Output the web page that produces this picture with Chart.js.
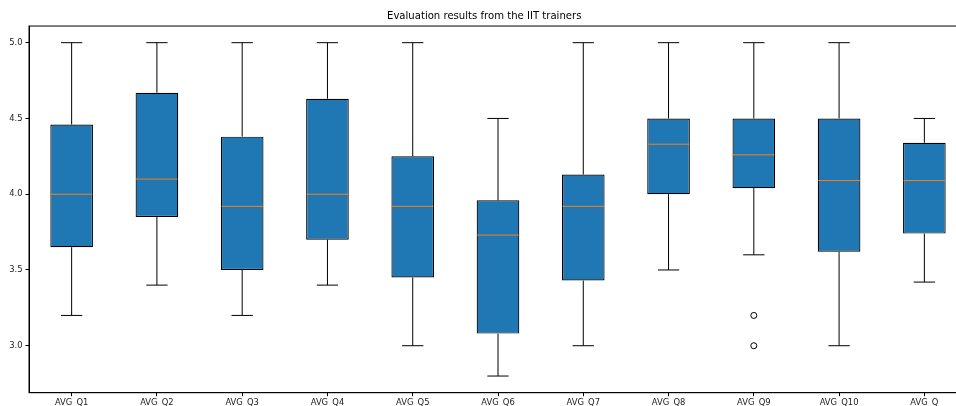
<!DOCTYPE html>
<html>
<head>
<meta charset="utf-8">
<script src="https://cdn.jsdelivr.net/npm/chart.js@4/dist/chart.umd.min.js"></script>
<style>
  html, body { margin: 0; padding: 0; background: #fff; overflow: hidden; }
  #wrap { position: absolute; left: 0; top: 0; width: 972px; height: 414px; }
</style>
</head>
<body>
<div id="wrap"><canvas id="chart"></canvas></div>
<script>
// Per-question averages from the IIT trainer evaluations (five-number summaries)
const categories  = ['AVG_Q1', 'AVG_Q2', 'AVG_Q3', 'AVG_Q4', 'AVG_Q5', 'AVG_Q6',
                     'AVG_Q7', 'AVG_Q8', 'AVG_Q9', 'AVG_Q10', 'AVG_Q'];
const whiskerLow  = [3.2, 3.4, 3.2, 3.4, 3.0, 2.8, 3.0, 3.5, 3.6, 3.0, 3.42];
const quartile1   = [3.65, 3.85, 3.5, 3.7, 3.45, 3.08, 3.43, 4.0, 4.04, 3.62, 3.74];
const medians     = [4.0, 4.1, 3.92, 4.0, 3.92, 3.73, 3.92, 4.33, 4.26, 4.09, 4.09];
const quartile3   = [4.46, 4.67, 4.38, 4.63, 4.25, 3.96, 4.13, 4.5, 4.5, 4.5, 4.34];
const whiskerHigh = [5.0, 5.0, 5.0, 5.0, 5.0, 4.5, 5.0, 5.0, 5.0, 5.0, 4.5];
const outlierCategories = ['AVG_Q9', 'AVG_Q9'];
const outlierValues     = [3.2, 3.0];
const yTicks = [3.0, 3.5, 4.0, 4.5, 5.0];
const yMin = 2.69, yMax = 5.11;

const FONT = 'DejaVu Sans';

// Whiskers, caps, medians and the full axes frame
const boxExtras = {
  id: 'boxExtras',
  afterDatasetsDraw(chart) {
    const ctx = chart.ctx;
    const y = chart.scales.y;
    const bars = chart.getDatasetMeta(0).data;
    ctx.save();
    bars.forEach((bar, i) => {
      const cx = bar.x;
      const half = bar.width / 2;
      const capHalf = bar.width / 4;
      const yLo = y.getPixelForValue(whiskerLow[i]);
      const yQ1 = y.getPixelForValue(quartile1[i]);
      const yQ3 = y.getPixelForValue(quartile3[i]);
      const yHi = y.getPixelForValue(whiskerHigh[i]);
      const yMed = y.getPixelForValue(medians[i]);
      ctx.strokeStyle = '#000';
      ctx.lineWidth = 1;
      ctx.beginPath();
      ctx.moveTo(cx, yQ1); ctx.lineTo(cx, yLo);
      ctx.moveTo(cx, yQ3); ctx.lineTo(cx, yHi);
      ctx.moveTo(cx - capHalf, yLo); ctx.lineTo(cx + capHalf, yLo);
      ctx.moveTo(cx - capHalf, yHi); ctx.lineTo(cx + capHalf, yHi);
      ctx.stroke();
      ctx.strokeStyle = '#ff7f0e';
      ctx.beginPath();
      ctx.moveTo(cx - half + 0.5, yMed); ctx.lineTo(cx + half - 0.5, yMed);
      ctx.stroke();
    });
    const a = chart.chartArea;
    ctx.strokeStyle = '#000';
    ctx.lineWidth = 1;
    ctx.strokeRect(a.left, a.top, a.right - a.left, a.bottom - a.top);
    ctx.restore();
  }
};

new Chart(document.getElementById('chart'), {
  data: {
    labels: categories,
    datasets: [
      {
        type: 'bar',
        data: categories.map((c, i) => [quartile1[i], quartile3[i]]),
        backgroundColor: '#1f77b4',
        borderColor: '#000',
        borderWidth: 1.2,
        borderSkipped: false,
        categoryPercentage: 1.0,
        barPercentage: 0.5
      },
      {
        type: 'line',
        data: outlierCategories.map((c, i) => ({ x: c, y: outlierValues[i] })),
        showLine: false,
        pointStyle: 'circle',
        pointRadius: 3,
        pointBorderWidth: 1,
        pointBorderColor: '#000',
        pointBackgroundColor: 'rgba(0,0,0,0)'
      }
    ]
  },
  options: {
    responsive: true,
    maintainAspectRatio: false,
    animation: false,
    layout: { padding: { left: 0, right: 3.6, top: 0, bottom: 0 } },
    plugins: {
      legend: { display: false },
      tooltip: { enabled: false },
      title: {
        display: true,
        text: 'Evaluation results from the IIT trainers',
        color: '#000',
        font: { family: FONT, size: 10.1, weight: 'normal', lineHeight: 1.2 },
        padding: { top: 10.6, bottom: 3.3 }
      }
    },
    scales: {
      x: {
        type: 'category',
        offset: true,
        grid: { display: true, offset: false, drawOnChartArea: false, drawTicks: true, tickLength: 3.5, color: '#000' },
        border: { display: true, color: '#000' },
        ticks: { color: '#222', font: { family: FONT, size: 8.4 }, padding: 2, maxRotation: 0, autoSkip: false },
        afterFit(scale) { scale.height = 21.3; }
      },
      y: {
        type: 'linear',
        min: yMin,
        max: yMax,
        grid: { display: true, drawOnChartArea: false, drawTicks: true, tickLength: 3.5, color: '#000' },
        border: { display: true, color: '#000' },
        ticks: { color: '#222', font: { family: FONT, size: 8.4 }, padding: 3, callback: v => Number(v).toFixed(1) },
        afterBuildTicks(scale) { scale.ticks = yTicks.map(v => ({ value: v })); },
        afterFit(scale) { scale.width = 29; }
      }
    }
  },
  plugins: [boxExtras]
});
</script>
</body>
</html>
